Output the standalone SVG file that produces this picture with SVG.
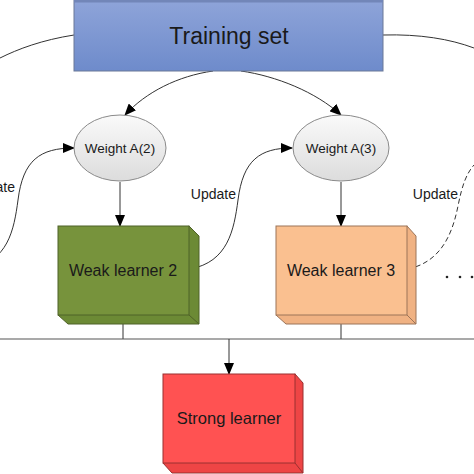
<svg xmlns="http://www.w3.org/2000/svg" width="474" height="474" viewBox="0 0 474 474">
<defs>
<linearGradient id="gBlue" x1="0" y1="0" x2="0" y2="1"><stop offset="0" stop-color="#91a6da"/><stop offset="1" stop-color="#6e8bcb"/></linearGradient>
<linearGradient id="gEll" x1="0" y1="0" x2="0" y2="1"><stop offset="0" stop-color="#fafafa"/><stop offset="1" stop-color="#dcdcdc"/></linearGradient>
<marker id="arr" markerUnits="userSpaceOnUse" markerWidth="12" markerHeight="10" refX="11" refY="5" orient="auto"><path d="M0,0 L12,5 L0,10 Z" fill="#000"/></marker>
</defs>
<style>
text{font-family:"Liberation Sans",Arial,sans-serif;fill:#1a1a1a}
.c{fill:none;stroke:#333;stroke-width:1}
.a{marker-end:url(#arr)}
.d{stroke-dasharray:5,3}
.wt{font-size:13.5px;text-anchor:middle}
.bt{font-size:16px;text-anchor:middle}
.up{font-size:14px;text-anchor:end}
</style>
<g id="connectors">
<path class="c" d="M74,35 C42,40 18,49 0,58"/>
<path class="c" d="M383,35 C420,34 450,39 474,48"/>
<path class="c a" d="M213,71 C178,76 146,92 125,115"/>
<path class="c a" d="M241,71 C276,76 316,92 341,115"/>
<path class="c a" d="M120,182 L120,226"/>
<path class="c a" d="M341,182 L341,226"/>
<path class="c a" d="M-30,268 C8,262 14,230 18,200 C23,160 40,148 74,148"/>
<path class="c a" d="M190,269 C228,262 234,230 238,200 C243,160 260,148 292,148"/>
<path class="c d" d="M408,269 C440,262 452,236 458,206 C462,186 466,174 474,165"/>
<path class="c" d="M123,315 L123,339 M341,315 L341,339"/>
<path d="M0,339 L474,339" stroke="#555" stroke-width="1.2" fill="none"/>
<path class="c a" d="M229,339 L229,374"/>
<text class="up" x="15" y="192">Update</text>
<text class="up" x="236" y="199">Update</text>
<text class="up" x="458" y="199">Update</text>
<circle cx="447" cy="277" r="1.3" fill="#222"/>
<circle cx="460" cy="277" r="1.3" fill="#222"/>
<circle cx="472" cy="277" r="1.3" fill="#222"/>
</g>
<g id="training">
<rect x="74" y="-6" width="309" height="77" fill="url(#gBlue)" stroke="#6b7897"/>
<rect x="74" y="0" width="309" height="2.5" fill="#7286b8"/>
<text x="229" y="44" font-size="23" text-anchor="middle">Training set</text>
</g>
<g id="weight2">
<ellipse cx="120" cy="148" rx="46" ry="33" fill="url(#gEll)" stroke="#8a8a8a"/>
<text class="wt" x="120" y="153">Weight A(2)</text>
</g>
<g id="weight3">
<ellipse cx="341" cy="148" rx="48" ry="33" fill="url(#gEll)" stroke="#8a8a8a"/>
<text class="wt" x="341" y="153">Weight A(3)</text>
</g>
<g id="weak2">
<path d="M189,226 L199,236 L199,324 L68,324 L58,315 Z" fill="#6c8a35" stroke="#4f6228"/>
<path d="M189,315 L199,324" stroke="#4f6228" fill="none"/>
<rect x="58" y="226" width="131" height="89" fill="#77933c" stroke="#4f6228"/>
<text class="bt" x="123" y="276">Weak learner 2</text>
</g>
<g id="weak3">
<path d="M407,226 L416,236 L416,324 L286,324 L276,315 Z" fill="#f0b283" stroke="#9c7458"/>
<path d="M407,315 L416,324" stroke="#9c7458" fill="none"/>
<rect x="276" y="226" width="131" height="89" fill="#fac090" stroke="#9c7458"/>
<text class="bt" x="341" y="276">Weak learner 3</text>
</g>
<g id="strong">
<path d="M295,374 L303,383 L303,473 L172,473 L163,463 Z" fill="#ee4545" stroke="#9a3030"/>
<path d="M295,463 L303,473" stroke="#9a3030" fill="none"/>
<rect x="163" y="374" width="132" height="89" fill="#ff5252" stroke="#9a3030"/>
<text x="229" y="424" font-size="16.5" text-anchor="middle">Strong learner</text>
</g>
</svg>
